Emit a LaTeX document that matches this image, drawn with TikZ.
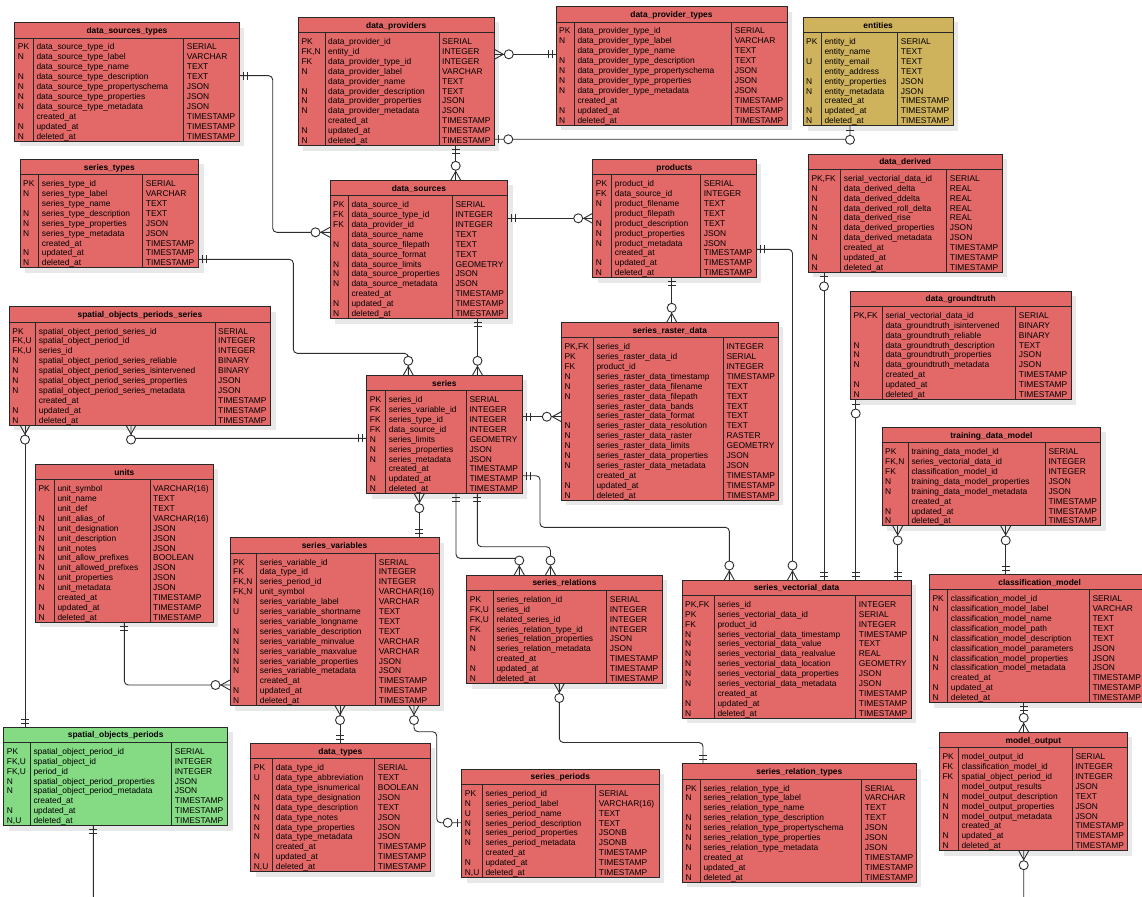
\documentclass[tikz,border=0pt]{standalone}
\usepackage{fontspec}
\setmainfont{Liberation Sans}
\usetikzlibrary{decorations.markings}
\definecolor{tred}{RGB}{227,105,105}
\definecolor{tgold}{RGB}{207,178,92}
\definecolor{tgreen}{RGB}{133,218,132}
\definecolor{bordc}{RGB}{40,40,40}
\definecolor{linec}{RGB}{45,45,45}
\definecolor{shadc}{RGB}{232,232,232}
\newcommand\tf{\fontsize{8.4pt}{9.9pt}\selectfont}
\newcommand\mOne[1]{\draw[mk] (#1*4pt,-4pt)--(#1*4pt,4pt) (#1*8pt,-4pt)--(#1*8pt,4pt);}
\newcommand\mMany[1]{\draw[mk] (0pt,5pt)--(#1*9pt,0pt)--(0pt,-5pt); \draw[mk,fill=white] (#1*14.5pt,0pt) circle (4.5pt);}
\newcommand\mZOne[1]{\draw[mk] (#1*4.5pt,-4pt)--(#1*4.5pt,4pt); \draw[mk,fill=white] (#1*14pt,0pt) circle (4.5pt);}
\tikzset{
 mk/.style={draw=linec, line width=0.9pt, sharp corners, solid},
 tbl/.style={draw=bordc, line width=0.9pt, inner sep=0pt, outer sep=0pt, anchor=north west},
 sepl/.style={draw=bordc, line width=0.9pt},
 col/.style={font=\tf, align=left, inner sep=0pt, anchor=north west},
 ttl/.style={font=\tf\bfseries, inner sep=0pt, anchor=base},
 conn/.style={draw=linec, line width=0.9pt, rounded corners=4pt},
 s11/.style={postaction={decorate,decoration={markings,mark=at position 0 with {\mOne{1}}}}},
 e11/.style={postaction={decorate,decoration={markings,mark=at position 1 with {\mOne{-1}}}}},
 s0n/.style={postaction={decorate,decoration={markings,mark=at position 0 with {\mMany{1}}}}},
 e0n/.style={postaction={decorate,decoration={markings,mark=at position 1 with {\mMany{-1}}}}},
 s01/.style={postaction={decorate,decoration={markings,mark=at position 0 with {\mZOne{1}}}}},
 e01/.style={postaction={decorate,decoration={markings,mark=at position 1 with {\mZOne{-1}}}}},
}
\def\ertparse#1/#2/#3/#4/#5/#6\relax{\def\xa{#1}\def\ya{#2}\def\xb{#3}\def\nr{#4}\def\kd{#5}\def\td{#6}}
\newcommand\ertab[7]{%
 \ertparse#2\relax
 \pgfmathsetmacro\yt{\ya+15.3}%
 \pgfmathsetmacro\yb{\yt+(\nr-1)*9.9+14}%
 \fill[shadc] (\xa+5,\ya+5) rectangle (\xb+5,\yb+5);
 \node[tbl, fill=#4, minimum width={(\xb-\xa)*1pt}, minimum height={(\yb-\ya)*1pt}] (#1) at (\xa,\ya) {};
 \draw[sepl] (\xa,\yt) -- (\xb,\yt) (\kd,\yt) -- (\kd,\yb) (\td,\yt) -- (\td,\yb);
 \node[ttl] at ({(\xa+\xb)/2},\ya+10.9) {#3};
 \node[col] at (\xa+3,\yt+4.8) {\rule{0pt}{7pt}#5};
 \node[col] at (\kd+3,\yt+4.8) {\rule{0pt}{7pt}#6};
 \node[col] at (\td+3,\yt+4.8) {\rule{0pt}{7pt}#7};
}
\begin{document}
\catcode`\_=12
\begin{tikzpicture}[x=1pt,y=-1pt]
\useasboundingbox (0,0) rectangle (1142,896);
\fill[white] (0,0) rectangle (1142,896);

\ertab{dst}{14.7/22.7/239.3/10/33.3/183.7}{data_sources_types}{tred}
{PK\\N\\\\N\\N\\N\\N\\\\N\\N}
{data_source_type_id\\data_source_type_label\\data_source_type_name\\data_source_type_description\\data_source_type_propertyschema\\data_source_type_properties\\data_source_type_metadata\\created_at\\updated_at\\deleted_at}
{SERIAL\\VARCHAR\\TEXT\\TEXT\\JSON\\JSON\\JSON\\TIMESTAMP\\TIMESTAMP\\TIMESTAMP}

\ertab{stypes}{20/159.3/198.7/9/38.7/142.7}{series_types}{tred}
{PK\\N\\\\N\\N\\N\\\\N\\N}
{series_type_id\\series_type_label\\series_type_name\\series_type_description\\series_type_properties\\series_type_metadata\\created_at\\updated_at\\deleted_at}
{SERIAL\\VARCHAR\\TEXT\\TEXT\\JSON\\JSON\\TIMESTAMP\\TIMESTAMP\\TIMESTAMP}

\ertab{dprov}{298.3/17.3/494.3/11/325/439}{data_providers}{tred}
{PK\\FK,N\\FK\\N\\\\N\\N\\N\\\\N\\N}
{data_provider_id\\entity_id\\data_provider_type_id\\data_provider_label\\data_provider_name\\data_provider_description\\data_provider_properties\\data_provider_metadata\\created_at\\updated_at\\deleted_at}
{SERIAL\\INTEGER\\INTEGER\\VARCHAR\\TEXT\\TEXT\\JSON\\JSON\\TIMESTAMP\\TIMESTAMP\\TIMESTAMP}

\ertab{dsrc}{330/180.3/507.7/12/348.3/452.3}{data_sources}{tred}
{PK\\FK\\FK\\\\N\\\\N\\N\\N\\\\N\\N}
{data_source_id\\data_source_type_id\\data_provider_id\\data_source_name\\data_source_filepath\\data_source_format\\data_source_limits\\data_source_properties\\data_source_metadata\\created_at\\updated_at\\deleted_at}
{SERIAL\\INTEGER\\INTEGER\\TEXT\\TEXT\\TEXT\\GEOMETRY\\JSON\\JSON\\TIMESTAMP\\TIMESTAMP\\TIMESTAMP}

\ertab{dptypes}{556/6.7/787/10/574.3/731.7}{data_provider_types}{tred}
{PK\\N\\\\N\\N\\N\\N\\\\N\\N}
{data_provider_type_id\\data_provider_type_label\\data_provider_type_name\\data_provider_type_description\\data_provider_type_propertyschema\\data_provider_type_properties\\data_provider_type_metadata\\created_at\\updated_at\\deleted_at}
{SERIAL\\VARCHAR\\TEXT\\TEXT\\JSON\\JSON\\JSON\\TIMESTAMP\\TIMESTAMP\\TIMESTAMP}

\ertab{prod}{592.7/159.3/756/10/611.7/700.7}{products}{tred}
{PK\\FK\\N\\\\N\\N\\N\\\\N\\N}
{product_id\\data_source_id\\product_filename\\product_filepath\\product_description\\product_properties\\product_metadata\\created_at\\updated_at\\deleted_at}
{SERIAL\\INTEGER\\TEXT\\TEXT\\TEXT\\JSON\\JSON\\TIMESTAMP\\TIMESTAMP\\TIMESTAMP}

\ertab{ent}{803/17.3/953.3/9/821.3/897.7}{entities}{tgold}
{PK\\\\U\\\\N\\N\\\\N\\N}
{entity_id\\entity_name\\entity_email\\entity_address\\entity_properties\\entity_metadata\\created_at\\updated_at\\deleted_at}
{SERIAL\\TEXT\\TEXT\\TEXT\\JSON\\JSON\\TIMESTAMP\\TIMESTAMP\\TIMESTAMP}

\ertab{dder}{808.3/154/1002/10/840.7/946.7}{data_derived}{tred}
{PK,FK\\N\\N\\N\\N\\N\\N\\\\N\\N}
{serial_vectorial_data_id\\data_derived_delta\\data_derived_ddelta\\data_derived_roll_delta\\data_derived_rise\\data_derived_properties\\data_derived_metadata\\created_at\\updated_at\\deleted_at}
{SERIAL\\REAL\\REAL\\REAL\\REAL\\JSON\\JSON\\TIMESTAMP\\TIMESTAMP\\TIMESTAMP}

\ertab{dgt}{850.3/291/1071/9/882.3/1015.7}{data_groundtruth}{tred}
{PK,FK\\\\\\N\\N\\N\\\\N\\N}
{serial_vectorial_data_id\\data_groundtruth_isintervened\\data_groundtruth_reliable\\data_groundtruth_description\\data_groundtruth_properties\\data_groundtruth_metadata\\created_at\\updated_at\\deleted_at}
{SERIAL\\BINARY\\BINARY\\TEXT\\JSON\\JSON\\TIMESTAMP\\TIMESTAMP\\TIMESTAMP}

\ertab{tdm}{882/427.3/1100.7/8/908.3/1045.3}{training_data_model}{tred}
{PK\\FK,N\\FK\\N\\N\\\\N\\N}
{training_data_model_id\\series_vectorial_data_id\\classification_model_id\\training_data_model_properties\\training_data_model_metadata\\created_at\\updated_at\\deleted_at}
{SERIAL\\INTEGER\\INTEGER\\JSON\\JSON\\TIMESTAMP\\TIMESTAMP\\TIMESTAMP}

\ertab{cmod}{929.3/574.3/1150/11/947.7/1089.3}{classification_model}{tred}
{PK\\N\\\\\\N\\\\N\\N\\\\N\\N}
{classification_model_id\\classification_model_label\\classification_model_name\\classification_model_path\\classification_model_description\\classification_model_parameters\\classification_model_properties\\classification_model_metadata\\created_at\\updated_at\\deleted_at}
{SERIAL\\VARCHAR\\TEXT\\TEXT\\TEXT\\JSON\\JSON\\JSON\\TIMESTAMP\\TIMESTAMP\\TIMESTAMP}

\ertab{sops}{9.3/306.7/270.7/10/35.7/215}{spatial_objects_periods_series}{tred}
{PK\\FK,U\\FK,U\\N\\N\\N\\N\\\\N\\N}
{spatial_object_period_series_id\\spatial_object_period_id\\series_id\\spatial_object_period_series_reliable\\spatial_object_period_series_isintervened\\spatial_object_period_series_properties\\spatial_object_period_series_metadata\\created_at\\updated_at\\deleted_at}
{SERIAL\\INTEGER\\INTEGER\\BINARY\\BINARY\\JSON\\JSON\\TIMESTAMP\\TIMESTAMP\\TIMESTAMP}

\ertab{units}{35.3/464.3/213.3/14/54.3/150}{units}{tred}
{PK\\\\\\N\\N\\N\\N\\N\\N\\N\\N\\\\N\\N}
{unit_symbol\\unit_name\\unit_def\\unit_alias_of\\unit_designation\\unit_description\\unit_notes\\unit_allow_prefixes\\unit_allowed_prefixes\\unit_properties\\unit_metadata\\created_at\\updated_at\\deleted_at}
{VARCHAR(16)\\TEXT\\TEXT\\VARCHAR(16)\\JSON\\JSON\\JSON\\BOOLEAN\\JSON\\JSON\\JSON\\TIMESTAMP\\TIMESTAMP\\TIMESTAMP}

\ertab{ser}{366.7/375.3/522/10/385.7/466.3}{series}{tred}
{PK\\FK\\FK\\FK\\N\\N\\N\\\\N\\N}
{series_id\\series_variable_id\\series_type_id\\data_source_id\\series_limits\\series_properties\\series_metadata\\created_at\\updated_at\\deleted_at}
{SERIAL\\INTEGER\\INTEGER\\INTEGER\\GEOMETRY\\JSON\\JSON\\TIMESTAMP\\TIMESTAMP\\TIMESTAMP}

\ertab{srd}{561.3/322.3/778.3/16/593.3/723.3}{series_raster_data}{tred}
{PK,FK\\PK\\FK\\N\\N\\N\\\\\\N\\N\\N\\N\\N\\\\N\\N}
{series_id\\series_raster_data_id\\product_id\\series_raster_data_timestamp\\series_raster_data_filename\\series_raster_data_filepath\\series_raster_data_bands\\series_raster_data_format\\series_raster_data_resolution\\series_raster_data_raster\\series_raster_data_limits\\series_raster_data_properties\\series_raster_data_metadata\\created_at\\updated_at\\deleted_at}
{INTEGER\\SERIAL\\INTEGER\\TIMESTAMP\\TEXT\\TEXT\\TEXT\\TEXT\\TEXT\\RASTER\\GEOMETRY\\JSON\\JSON\\TIMESTAMP\\TIMESTAMP\\TIMESTAMP}

\ertab{svar}{230/537.7/439/15/256.7/375.7}{series_variables}{tred}
{PK\\FK\\FK,N\\FK,N\\N\\U\\\\N\\N\\N\\N\\N\\\\N\\N}
{series_variable_id\\data_type_id\\series_period_id\\unit_symbol\\series_variable_label\\series_variable_shortname\\series_variable_longname\\series_variable_description\\series_variable_minvalue\\series_variable_maxvalue\\series_variable_properties\\series_variable_metadata\\created_at\\updated_at\\deleted_at}
{SERIAL\\INTEGER\\INTEGER\\VARCHAR(16)\\VARCHAR\\TEXT\\TEXT\\TEXT\\VARCHAR\\VARCHAR\\JSON\\JSON\\TIMESTAMP\\TIMESTAMP\\TIMESTAMP}

\ertab{srel}{466.7/575/662.3/9/493.3/606.7}{series_relations}{tred}
{PK\\FK,U\\FK,U\\FK\\N\\N\\\\N\\N}
{series_relation_id\\series_id\\related_series_id\\series_relation_type_id\\series_relation_properties\\series_relation_metadata\\created_at\\updated_at\\deleted_at}
{SERIAL\\INTEGER\\INTEGER\\INTEGER\\JSON\\JSON\\TIMESTAMP\\TIMESTAMP\\TIMESTAMP}

\ertab{svd}{682/580/911/12/714.3/855.7}{series_vectorial_data}{tred}
{PK,FK\\PK\\FK\\N\\N\\N\\N\\N\\N\\\\N\\N}
{series_id\\series_vectorial_data_id\\product_id\\series_vectorial_data_timestamp\\series_vectorial_data_value\\series_vectorial_data_realvalue\\series_vectorial_data_location\\series_vectorial_data_properties\\series_vectorial_data_metadata\\created_at\\updated_at\\deleted_at}
{INTEGER\\SERIAL\\INTEGER\\TIMESTAMP\\TEXT\\REAL\\GEOMETRY\\JSON\\JSON\\TIMESTAMP\\TIMESTAMP\\TIMESTAMP}

\ertab{sop}{3.7/727/227.7/8/30.3/171.7}{spatial_objects_periods}{tgreen}
{PK\\FK,U\\FK,U\\N\\N\\\\N\\N,U}
{spatial_object_period_id\\spatial_object_id\\period_id\\spatial_object_period_properties\\spatial_object_period_metadata\\created_at\\updated_at\\deleted_at}
{SERIAL\\INTEGER\\INTEGER\\JSON\\JSON\\TIMESTAMP\\TIMESTAMP\\TIMESTAMP}

\ertab{dtypes}{250.7/743.3/430/11/272.7/374.7}{data_types}{tred}
{PK\\U\\\\N\\N\\N\\N\\N\\\\N\\N,U}
{data_type_id\\data_type_abbreviation\\data_type_isnumerical\\data_type_designation\\data_type_description\\data_type_notes\\data_type_properties\\data_type_metadata\\created_at\\updated_at\\deleted_at}
{SERIAL\\TEXT\\BOOLEAN\\JSON\\TEXT\\JSON\\JSON\\JSON\\TIMESTAMP\\TIMESTAMP\\TIMESTAMP}

\ertab{sper}{461.7/769/659/9/482.3/595.7}{series_periods}{tred}
{PK\\N\\U\\N\\N\\N\\\\N\\N,U}
{series_period_id\\series_period_label\\series_period_name\\series_period_description\\series_period_properties\\series_period_metadata\\created_at\\updated_at\\deleted_at}
{SERIAL\\VARCHAR(16)\\TEXT\\TEXT\\JSONB\\JSONB\\TIMESTAMP\\TIMESTAMP\\TIMESTAMP}

\ertab{srtypes}{682.3/763.7/916.3/10/700.3/861.7}{series_relation_types}{tred}
{PK\\N\\\\N\\N\\N\\N\\\\N\\N}
{series_relation_type_id\\series_relation_type_label\\series_relation_type_name\\series_relation_type_description\\series_relation_type_propertyschema\\series_relation_type_properties\\series_relation_type_metadata\\created_at\\updated_at\\deleted_at}
{SERIAL\\VARCHAR\\TEXT\\TEXT\\JSON\\JSON\\JSON\\TIMESTAMP\\TIMESTAMP\\TIMESTAMP}

\ertab{mout}{939.3/732.3/1127.3/10/958.3/1072.3}{model_output}{tred}
{PK\\FK\\FK\\\\N\\N\\N\\\\N\\N}
{model_output_id\\classification_model_id\\spatial_object_period_id\\model_output_results\\model_output_description\\model_output_properties\\model_output_metadata\\created_at\\updated_at\\deleted_at}
{SERIAL\\INTEGER\\INTEGER\\JSON\\TEXT\\JSON\\JSON\\TIMESTAMP\\TIMESTAMP\\TIMESTAMP}

% connectors
\draw[conn,s11,e0n] (dst.east |- 0,75.7) -- (272.7,75.7) -- (272.7,232.3) -- (dsrc.west |- 0,232.3);
\draw[conn,s11,e0n] (stypes.east |- 0,259.3) -- (293.3,259.3) -- (293.3,353.3) -- (408.3,353.3) -- (ser.north -| 408.3,0);
\draw[conn,s11,e0n] (dptypes.west |- 0,54.3) -- (dprov.east |- 0,54.3);
\draw[conn,s01,e01] (dprov.east |- 0,139.3) -- (850,139.3) -- (ent.south -| 850,0);
\draw[conn,s11,e0n] (dprov.south -| 455.7,0) -- (dsrc.north -| 455.7,0);
\draw[conn,s11,e0n] (dsrc.east |- 0,218.3) -- (prod.west |- 0,218.3);
\draw[conn,s11,e0n] (dsrc.south -| 477.5,0) -- (ser.north -| 477.5,0);
\draw[conn,s11,e0n] (prod.south -| 671.7,0) -- (srd.north -| 671.7,0);
\draw[conn,s11,e0n] (prod.east |- 0,249.3) -- (792.5,249.3) -- (svd.north -| 792.5,0);
\draw[conn,s01,e11] (dder.south -| 824,0) -- (svd.north -| 824,0);
\draw[conn,s01,e11] (dgt.south -| 855.7,0) -- (svd.north -| 855.7,0);
\draw[conn,s0n,e11] (tdm.south -| 897.7,0) -- (svd.north -| 897.7,0);
\draw[conn,s0n,e11] (tdm.south -| 1005.7,0) -- (cmod.north -| 1005.7,0);
\draw[conn,s11,e0n] (cmod.south -| 1023.7,0) -- (mout.north -| 1023.7,0);
\draw[conn,s11,e0n] (sop.south -| 93.3,0) -- (93.3,930) -- (1023.7,930) -- (mout.south -| 1023.7,0);
\draw[conn,s11,e0n] (ser.west |- 0,438.3) -- (131,438.3) -- (sops.south -| 131,0);
\draw[conn,s11,e0n] (sop.north -| 25,0) -- (sops.south -| 25,0);
\draw[conn,s11,e0n] (units.south -| 124.3,0) -- (124.3,685) -- (svar.west |- 0,685);
\draw[conn,s11,e0n] (svar.north -| 419.3,0) -- (ser.south -| 419.3,0);
\draw[conn,s11,e0n] (ser.south -| 456,0) -- (456,558.3) -- (519.3,558.3) -- (srel.north -| 519.3,0);
\draw[conn,s11,e0n] (ser.south -| 477.3,0) -- (477.3,546.7) -- (550.5,546.7) -- (srel.north -| 550.5,0);
\draw[conn,s11,e0n] (ser.east |- 0,475.7) -- (540,475.7) -- (540,527.3) -- (729.3,527.3) -- (svd.north -| 729.3,0);
\draw[conn,s11,e0n] (ser.east |- 0,416.7) -- (srd.west |- 0,416.7);
\draw[conn,s0n,e11] (svar.south -| 340,0) -- (dtypes.north -| 340,0);
\draw[conn,s0n,e01] (svar.south -| 414,0) -- (414,731.7) -- (436.7,731.7) -- (436.7,822.7) -- (sper.west |- 0,822.7);
\draw[conn,s0n,e11] (srel.south -| 559.3,0) -- (559.3,742.5) -- (703,742.5) -- (srtypes.north -| 703,0);
\end{tikzpicture}
\end{document}
